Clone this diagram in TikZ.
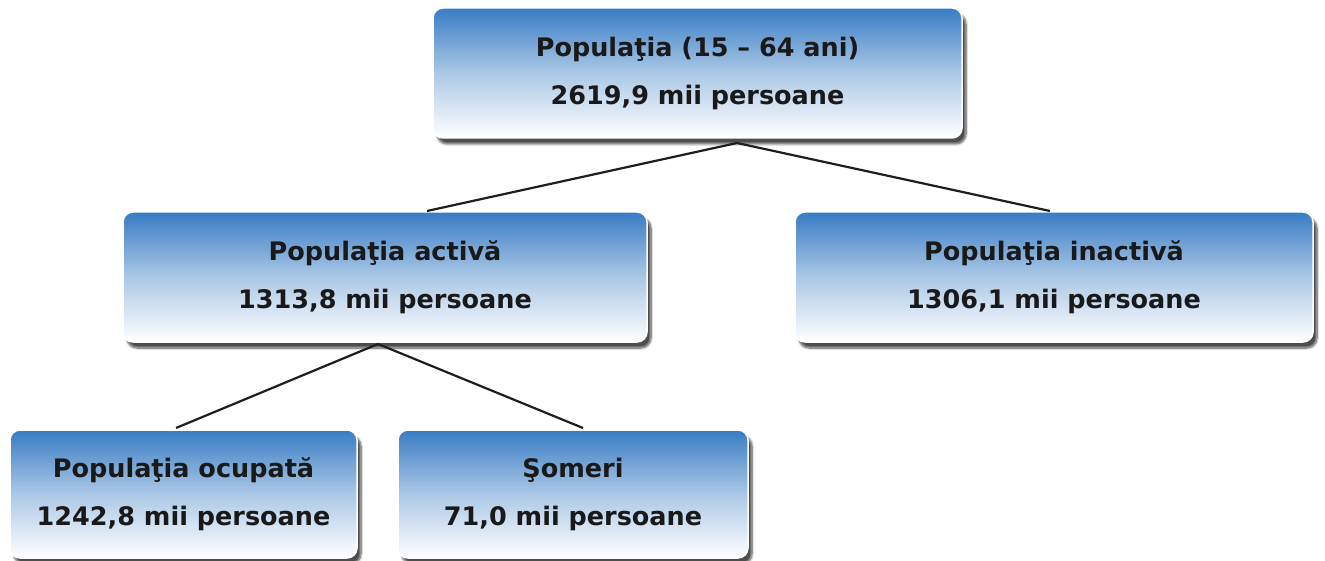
\documentclass[tikz,border=0pt]{standalone}
\usepackage{fontspec}
\setmainfont{DejaVu Sans}
\usetikzlibrary{shadows.blur}
\definecolor{boxblue}{RGB}{56,124,196}
\definecolor{linecol}{RGB}{30,30,30}
\tikzset{
  box/.style={rounded corners=10pt, draw=white, line width=1.5pt,
    top color=boxblue, bottom color=white, middle color=boxblue!42!white,
    blur shadow={shadow xshift=4pt, shadow yshift=-6pt, shadow blur steps=8, shadow blur extra rounding=3pt, shadow opacity=70},
    align=center, inner sep=0pt, text=black!90,
    font=\fontsize{25.5}{48}\selectfont\bfseries},
  conn/.style={draw=linecol, line width=2.2pt}
}
\begin{document}
\begin{tikzpicture}[x=1pt,y=-1pt]
\useasboundingbox (0,0) rectangle (1325,561);
\node[box, minimum width=529pt, minimum height=130pt] (top) at (697.5,73) {Populaţia (15 – 64 ani)\\2619,9 mii persoane};
\node[box, minimum width=524pt, minimum height=130pt] (activ) at (385,277) {Populaţia activă\\1313,8 mii persoane};
\node[box, minimum width=518pt, minimum height=130pt] (inactiv) at (1054,277) {Populaţia inactivă\\1306,1 mii persoane};
\node[box, minimum width=347pt, minimum height=128pt] (ocup) at (183.5,494) {Populaţia ocupată\\1242,8 mii persoane};
\node[box, minimum width=350pt, minimum height=128pt] (somer) at (573,494) {Şomeri\\71,0 mii persoane};
\coordinate (topjoin) at (737,143);
\coordinate (activin) at (427,211);
\coordinate (inactivin) at (1050,211);
\coordinate (activjoin) at (378,344);
\coordinate (ocupin) at (176,428);
\coordinate (somerin) at (583,428);
\draw[conn] (activin) -- (topjoin) -- (inactivin);
\draw[conn] (ocupin) -- (activjoin) -- (somerin);
\end{tikzpicture}
\end{document}
